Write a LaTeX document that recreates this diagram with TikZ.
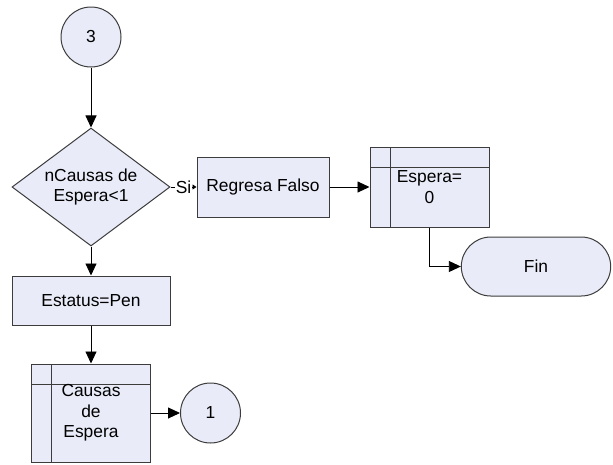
\documentclass[tikz,border=0pt]{standalone}
\usepackage{fontspec}
\setmainfont{Liberation Sans}
\usetikzlibrary{arrows.meta,positioning,shapes.geometric,shapes.misc}

\definecolor{boxfill}{RGB}{233,236,248}
\definecolor{boxline}{RGB}{60,60,60}

\begin{document}
\begin{tikzpicture}[
    node distance = 30pt,
    every node/.style = {font=\fontsize{17.4}{20.5}\selectfont},
    box/.style = {
        rectangle,
        draw=boxline,
        fill=boxfill,
        line width=1pt,
        align=center,
        inner sep=0pt
    },
    conn/.style = {
        circle,
        draw=boxline,
        fill=boxfill,
        line width=1pt,
        minimum size=60pt,
        inner sep=0pt
    },
    decision/.style = {
        diamond,
        draw=boxline,
        fill=boxfill,
        line width=1pt,
        align=center,
        inner sep=0pt,
        shape aspect=1.34,
        minimum width=158pt,
        minimum height=118pt
    },
    predef/.style = {
        box,
        path picture={
            \draw[boxline, line width=1pt]
                ([xshift=20pt]path picture bounding box.north west)
                -- ([xshift=20pt]path picture bounding box.south west);
            \draw[boxline, line width=1pt]
                ([yshift=-20pt]path picture bounding box.north west)
                -- ([yshift=-20pt]path picture bounding box.north east);
        }
    },
    term/.style = {
        rounded rectangle,
        draw=boxline,
        fill=boxfill,
        line width=1pt,
        minimum width=156pt,
        minimum height=59pt
    },
    arrow/.style = {
        -{Triangle[length=12pt,width=11pt]},
        draw=black,
        line width=0.9pt
    }
]

\useasboundingbox (0pt,0pt) rectangle (613pt,-464pt);

\node[conn] (c3) at (91pt,-37pt) {3};
\node[decision, below=60pt of c3] (espcheck) {nCausas de\\Espera<1};
\node[box, minimum width=132pt, minimum height=60pt, right=26pt of espcheck] (regresa) {Regresa Falso};
\node[predef, minimum width=119pt, minimum height=80pt, right=40pt of regresa] (espera) {Espera=\\0};
\node[term, below=9pt of espera.south, xshift=106.5pt] (fin) {Fin};
\node[box, minimum width=158pt, minimum height=49pt, below=29pt of espcheck] (estatus) {Estatus=Pen};
\node[predef, minimum width=119pt, minimum height=98pt, below=38pt of estatus] (causas) {Causas\\de\\Espera};
\node[conn, right=29pt of causas] (c1) {1};

\draw[arrow] (c3) -- (espcheck);
\draw[-{Triangle[length=4pt,width=5pt]}, line width=0.9pt] (espcheck) -- node[fill=white, inner sep=0.5pt] {Si} (regresa);
\draw[arrow] (regresa) -- (espera);
\draw[arrow] (espera.south) |- (fin.west);
\draw[arrow] (espcheck) -- (estatus);
\draw[arrow] (estatus) -- (causas);
\draw[arrow] (causas) -- (c1);

\end{tikzpicture}
\end{document}
